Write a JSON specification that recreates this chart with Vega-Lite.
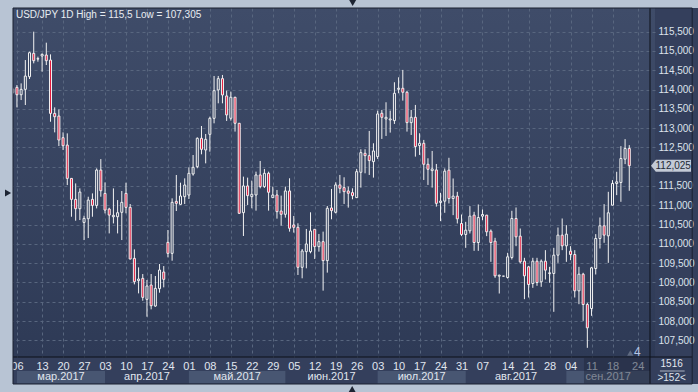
{
  "$schema": "https://vega.github.io/schema/vega-lite/v6.json",
  "width": 647,
  "height": 349,
  "autosize": "none",
  "padding": {"left": 8, "top": 8, "right": 43, "bottom": 35},
  "background": "#343f5c",
  "config": {
    "view": {"stroke": null, "fill": {"gradient": "linear", "x1": 0, "y1": 0, "x2": 0, "y2": 1, "stops": [{"offset": 0, "color": "#3f4c69"}, {"offset": 1, "color": "#2e3a56"}]}},
    "axis": {"labelFont": "Liberation Sans Narrow, Liberation Sans, sans-serif", "labelFontSize": 10, "tickCount": 200,
      "grid": true, "gridColor": "#58667f", "gridDash": [3, 3], "gridWidth": 1, "gridOpacity": 1,
      "ticks": false, "tickSize": 0, "domain": false, "labelPadding": 3,
      "labelOverlap": false, "labelFlush": false, "labelBound": false, "zindex": 0, "title": null},
    "text": {"font": "Liberation Sans Narrow, Liberation Sans, sans-serif", "fontSize": 10}
  },
  "datasets": {
    "ohlc": [
      {"k":0,"d":"2017-03-03","o":113.92,"h":114.05,"l":113.88,"c":114.01},
      {"k":1,"d":"2017-03-06","o":114.057,"h":114.117,"l":113.538,"c":113.866},
      {"k":2,"d":"2017-03-07","o":113.866,"h":114.16,"l":113.728,"c":114.005},
      {"k":3,"d":"2017-03-08","o":114.005,"h":114.765,"l":113.599,"c":114.35},
      {"k":4,"d":"2017-03-09","o":114.333,"h":114.981,"l":114.273,"c":114.955},
      {"k":5,"d":"2017-03-10","o":114.938,"h":115.5,"l":114.679,"c":114.748},
      {"k":6,"d":"2017-03-12","o":114.791,"h":114.852,"l":114.722,"c":114.8},
      {"k":7,"d":"2017-03-13","o":114.869,"h":114.938,"l":114.463,"c":114.912},
      {"k":8,"d":"2017-03-14","o":114.895,"h":115.215,"l":114.636,"c":114.748},
      {"k":9,"d":"2017-03-15","o":114.765,"h":114.912,"l":113.166,"c":113.382},
      {"k":10,"d":"2017-03-16","o":113.382,"h":113.538,"l":112.89,"c":113.296},
      {"k":11,"d":"2017-03-17","o":113.313,"h":113.486,"l":112.535,"c":112.691},
      {"k":12,"d":"2017-03-20","o":112.752,"h":112.89,"l":112.432,"c":112.544},
      {"k":13,"d":"2017-03-21","o":112.561,"h":112.864,"l":111.524,"c":111.697},
      {"k":14,"d":"2017-03-22","o":111.697,"h":111.7,"l":110.703,"c":111.153},
      {"k":15,"d":"2017-03-23","o":111.153,"h":111.567,"l":110.599,"c":110.911},
      {"k":16,"d":"2017-03-24","o":110.911,"h":111.438,"l":110.617,"c":111.343},
      {"k":17,"d":"2017-03-27","o":110.556,"h":110.729,"l":110.098,"c":110.66},
      {"k":18,"d":"2017-03-28","o":110.651,"h":111.222,"l":110.15,"c":111.135},
      {"k":19,"d":"2017-03-29","o":111.153,"h":111.308,"l":110.703,"c":110.997},
      {"k":20,"d":"2017-03-30","o":110.997,"h":111.956,"l":110.919,"c":111.913},
      {"k":21,"d":"2017-03-31","o":111.913,"h":112.198,"l":111.222,"c":111.377},
      {"k":22,"d":"2017-04-03","o":111.308,"h":111.593,"l":110.79,"c":110.876},
      {"k":23,"d":"2017-04-04","o":110.902,"h":110.936,"l":110.271,"c":110.746},
      {"k":24,"d":"2017-04-05","o":110.703,"h":111.438,"l":110.53,"c":110.74},
      {"k":25,"d":"2017-04-06","o":110.703,"h":111.135,"l":110.271,"c":110.807},
      {"k":26,"d":"2017-04-07","o":110.817,"h":111.37,"l":110.099,"c":111.076},
      {"k":27,"d":"2017-04-10","o":111.309,"h":111.586,"l":110.791,"c":110.946},
      {"k":28,"d":"2017-04-11","o":110.946,"h":111.033,"l":109.6,"c":109.607},
      {"k":29,"d":"2017-04-12","o":109.624,"h":109.857,"l":108.95,"c":109.019},
      {"k":30,"d":"2017-04-13","o":109.045,"h":109.391,"l":108.716,"c":109.088},
      {"k":31,"d":"2017-04-14","o":109.105,"h":109.218,"l":108.526,"c":108.613},
      {"k":32,"d":"2017-04-17","o":108.561,"h":109.062,"l":108.111,"c":108.907},
      {"k":33,"d":"2017-04-18","o":108.933,"h":109.218,"l":108.302,"c":108.397},
      {"k":34,"d":"2017-04-19","o":108.388,"h":109.166,"l":108.37,"c":108.846},
      {"k":35,"d":"2017-04-20","o":108.838,"h":109.477,"l":108.734,"c":109.322},
      {"k":36,"d":"2017-04-21","o":109.27,"h":109.425,"l":108.872,"c":109.08},
      {"k":37,"d":"2017-04-24","o":110.039,"h":110.359,"l":109.65,"c":109.754},
      {"k":38,"d":"2017-04-25","o":109.754,"h":111.18,"l":109.563,"c":111.076},
      {"k":39,"d":"2017-04-26","o":111.102,"h":111.785,"l":110.851,"c":111.05},
      {"k":40,"d":"2017-04-27","o":111.024,"h":111.586,"l":111.02,"c":111.24},
      {"k":41,"d":"2017-04-28","o":111.223,"h":111.698,"l":111.033,"c":111.525},
      {"k":42,"d":"2017-05-01","o":111.266,"h":111.984,"l":111.162,"c":111.828},
      {"k":43,"d":"2017-05-02","o":111.811,"h":112.303,"l":111.768,"c":111.984},
      {"k":44,"d":"2017-05-03","o":112.001,"h":112.76,"l":111.96,"c":112.736},
      {"k":45,"d":"2017-05-04","o":112.736,"h":113.055,"l":112.321,"c":112.45},
      {"k":46,"d":"2017-05-05","o":112.433,"h":112.848,"l":112.087,"c":112.71},
      {"k":47,"d":"2017-05-08","o":112.839,"h":113.297,"l":112.39,"c":113.254},
      {"k":48,"d":"2017-05-09","o":113.254,"h":114.352,"l":113.124,"c":113.971},
      {"k":49,"d":"2017-05-10","o":113.989,"h":114.352,"l":113.643,"c":114.283},
      {"k":50,"d":"2017-05-11","o":114.283,"h":114.378,"l":113.643,"c":113.859},
      {"k":51,"d":"2017-05-12","o":113.834,"h":113.973,"l":113.186,"c":113.342},
      {"k":52,"d":"2017-05-15","o":113.255,"h":113.947,"l":113.195,"c":113.8},
      {"k":53,"d":"2017-05-16","o":113.8,"h":113.81,"l":112.91,"c":113.126},
      {"k":54,"d":"2017-05-17","o":113.126,"h":113.13,"l":110.775,"c":110.792},
      {"k":55,"d":"2017-05-18","o":110.809,"h":111.743,"l":110.204,"c":111.501},
      {"k":56,"d":"2017-05-19","o":111.501,"h":111.717,"l":111.008,"c":111.25},
      {"k":57,"d":"2017-05-22","o":111.224,"h":111.639,"l":110.922,"c":111.285},
      {"k":58,"d":"2017-05-23","o":111.267,"h":111.872,"l":110.861,"c":111.786},
      {"k":59,"d":"2017-05-24","o":111.786,"h":112.149,"l":111.44,"c":111.484},
      {"k":60,"d":"2017-05-25","o":111.484,"h":111.942,"l":111.45,"c":111.829},
      {"k":61,"d":"2017-05-26","o":111.829,"h":111.872,"l":110.861,"c":111.337},
      {"k":62,"d":"2017-05-29","o":111.198,"h":111.484,"l":111.19,"c":111.267},
      {"k":63,"d":"2017-05-30","o":111.267,"h":111.397,"l":110.654,"c":110.835},
      {"k":64,"d":"2017-05-31","o":110.852,"h":111.25,"l":110.472,"c":110.766},
      {"k":65,"d":"2017-06-01","o":110.766,"h":111.484,"l":110.68,"c":111.371},
      {"k":66,"d":"2017-06-02","o":111.371,"h":111.7,"l":110.317,"c":110.403},
      {"k":67,"d":"2017-06-05","o":110.49,"h":110.723,"l":110.291,"c":110.429},
      {"k":68,"d":"2017-06-06","o":110.429,"h":110.533,"l":109.193,"c":109.392},
      {"k":69,"d":"2017-06-07","o":109.392,"h":109.867,"l":109.107,"c":109.815},
      {"k":70,"d":"2017-06-08","o":109.798,"h":110.386,"l":109.366,"c":109.997},
      {"k":71,"d":"2017-06-09","o":109.798,"h":110.818,"l":109.755,"c":110.334},
      {"k":72,"d":"2017-06-12","o":110.377,"h":110.38,"l":109.608,"c":109.928},
      {"k":73,"d":"2017-06-13","o":109.928,"h":110.256,"l":109.798,"c":110.057},
      {"k":74,"d":"2017-06-14","o":110.057,"h":110.317,"l":108.787,"c":109.565},
      {"k":75,"d":"2017-06-15","o":109.565,"h":110.982,"l":109.254,"c":110.922},
      {"k":76,"d":"2017-06-16","o":110.931,"h":111.423,"l":110.637,"c":110.861},
      {"k":77,"d":"2017-06-19","o":110.818,"h":111.596,"l":110.79,"c":111.527},
      {"k":78,"d":"2017-06-20","o":111.527,"h":111.786,"l":111.311,"c":111.44},
      {"k":79,"d":"2017-06-21","o":111.458,"h":111.726,"l":111.034,"c":111.354},
      {"k":80,"d":"2017-06-22","o":111.371,"h":111.484,"l":110.939,"c":111.311},
      {"k":81,"d":"2017-06-23","o":111.328,"h":111.44,"l":111.155,"c":111.25},
      {"k":82,"d":"2017-06-26","o":111.198,"h":111.942,"l":111.19,"c":111.872},
      {"k":83,"d":"2017-06-27","o":111.855,"h":112.452,"l":111.458,"c":112.365},
      {"k":84,"d":"2017-06-28","o":112.348,"h":112.452,"l":111.829,"c":112.287},
      {"k":85,"d":"2017-06-29","o":112.287,"h":112.927,"l":111.786,"c":112.158},
      {"k":86,"d":"2017-06-30","o":112.132,"h":112.607,"l":111.717,"c":112.408},
      {"k":87,"d":"2017-07-03","o":112.261,"h":113.454,"l":112.201,"c":113.368},
      {"k":88,"d":"2017-07-04","o":113.385,"h":113.471,"l":112.72,"c":113.281},
      {"k":89,"d":"2017-07-05","o":113.238,"h":113.67,"l":112.797,"c":113.281},
      {"k":90,"d":"2017-07-06","o":113.212,"h":113.454,"l":112.884,"c":113.238},
      {"k":91,"d":"2017-07-07","o":113.195,"h":114.189,"l":113.108,"c":113.904},
      {"k":92,"d":"2017-07-10","o":114.007,"h":114.318,"l":113.904,"c":114.033},
      {"k":93,"d":"2017-07-11","o":114.033,"h":114.509,"l":113.713,"c":113.93},
      {"k":94,"d":"2017-07-12","o":113.93,"h":113.96,"l":112.91,"c":113.143},
      {"k":95,"d":"2017-07-13","o":113.143,"h":113.471,"l":112.823,"c":113.281},
      {"k":96,"d":"2017-07-14","o":113.281,"h":113.601,"l":112.261,"c":112.521},
      {"k":97,"d":"2017-07-17","o":112.547,"h":112.867,"l":112.305,"c":112.607},
      {"k":98,"d":"2017-07-18","o":112.607,"h":112.694,"l":111.656,"c":112.063},
      {"k":99,"d":"2017-07-19","o":112.063,"h":112.218,"l":111.527,"c":111.933},
      {"k":100,"d":"2017-07-20","o":111.898,"h":112.408,"l":111.458,"c":111.942},
      {"k":101,"d":"2017-07-21","o":111.916,"h":112.071,"l":110.965,"c":111.05},
      {"k":102,"d":"2017-07-24","o":111.073,"h":111.323,"l":110.589,"c":111.107},
      {"k":103,"d":"2017-07-25","o":111.107,"h":111.954,"l":110.805,"c":111.885},
      {"k":104,"d":"2017-07-26","o":111.911,"h":112.231,"l":111.047,"c":111.176},
      {"k":105,"d":"2017-07-27","o":111.176,"h":111.695,"l":110.744,"c":111.237},
      {"k":106,"d":"2017-07-28","o":111.237,"h":111.349,"l":110.528,"c":110.649},
      {"k":107,"d":"2017-07-31","o":110.528,"h":110.761,"l":110.2,"c":110.243},
      {"k":108,"d":"2017-08-01","o":110.243,"h":110.571,"l":109.897,"c":110.355},
      {"k":109,"d":"2017-08-02","o":110.338,"h":110.978,"l":110.269,"c":110.718},
      {"k":110,"d":"2017-08-03","o":110.744,"h":110.831,"l":109.819,"c":110.035},
      {"k":111,"d":"2017-08-04","o":110.035,"h":111.021,"l":109.819,"c":110.684},
      {"k":112,"d":"2017-08-07","o":110.718,"h":110.891,"l":110.615,"c":110.761},
      {"k":113,"d":"2017-08-08","o":110.744,"h":110.75,"l":110.2,"c":110.312},
      {"k":114,"d":"2017-08-09","o":110.329,"h":110.373,"l":109.534,"c":110.035},
      {"k":115,"d":"2017-08-10","o":110.07,"h":110.156,"l":109.119,"c":109.171},
      {"k":116,"d":"2017-08-11","o":109.163,"h":109.2,"l":108.713,"c":109.188},
      {"k":117,"d":"2017-08-13","o":109.163,"h":109.163,"l":109.163,"c":109.163},
      {"k":118,"d":"2017-08-14","o":109.128,"h":109.767,"l":109.1,"c":109.664},
      {"k":119,"d":"2017-08-15","o":109.647,"h":110.857,"l":109.595,"c":110.658},
      {"k":120,"d":"2017-08-16","o":110.658,"h":110.943,"l":109.94,"c":110.182},
      {"k":121,"d":"2017-08-17","o":110.2,"h":110.398,"l":109.491,"c":109.534},
      {"k":122,"d":"2017-08-18","o":109.551,"h":109.638,"l":108.566,"c":109.171},
      {"k":123,"d":"2017-08-21","o":109.404,"h":109.43,"l":108.609,"c":108.946},
      {"k":124,"d":"2017-08-22","o":108.972,"h":109.638,"l":108.86,"c":109.551},
      {"k":125,"d":"2017-08-23","o":109.551,"h":109.638,"l":108.912,"c":108.998},
      {"k":126,"d":"2017-08-24","o":109.016,"h":109.595,"l":108.886,"c":109.551},
      {"k":127,"d":"2017-08-25","o":109.551,"h":109.837,"l":109.076,"c":109.318},
      {"k":128,"d":"2017-08-28","o":109.232,"h":109.404,"l":108.99,"c":109.249},
      {"k":129,"d":"2017-08-29","o":109.232,"h":109.897,"l":108.238,"c":109.707},
      {"k":130,"d":"2017-08-30","o":109.707,"h":110.424,"l":109.508,"c":110.226},
      {"k":131,"d":"2017-08-31","o":110.226,"h":110.658,"l":109.837,"c":109.949},
      {"k":132,"d":"2017-09-01","o":109.949,"h":110.485,"l":109.534,"c":110.252},
      {"k":133,"d":"2017-09-04","o":109.811,"h":109.94,"l":109.577,"c":109.724},
      {"k":134,"d":"2017-09-05","o":109.724,"h":109.837,"l":108.609,"c":108.782},
      {"k":135,"d":"2017-09-06","o":108.782,"h":109.404,"l":108.436,"c":109.214},
      {"k":136,"d":"2017-09-07","o":109.214,"h":109.25,"l":108.004,"c":108.428},
      {"k":137,"d":"2017-09-08","o":108.428,"h":108.47,"l":107.305,"c":107.823},
      {"k":138,"d":"2017-09-11","o":108.324,"h":109.404,"l":108.134,"c":109.379},
      {"k":139,"d":"2017-09-12","o":109.36,"h":110.252,"l":109.206,"c":110.139},
      {"k":140,"d":"2017-09-13","o":110.139,"h":110.684,"l":109.88,"c":110.468},
      {"k":141,"d":"2017-09-14","o":110.468,"h":111.029,"l":110.027,"c":110.226},
      {"k":142,"d":"2017-09-15","o":110.208,"h":111.349,"l":109.508,"c":110.805},
      {"k":143,"d":"2017-09-18","o":111.003,"h":111.652,"l":111.0,"c":111.565},
      {"k":144,"d":"2017-09-19","o":111.565,"h":111.868,"l":111.263,"c":111.608},
      {"k":145,"d":"2017-09-20","o":111.591,"h":112.533,"l":111.09,"c":112.213},
      {"k":146,"d":"2017-09-21","o":112.196,"h":112.715,"l":112.067,"c":112.473},
      {"k":147,"d":"2017-09-22","o":112.473,"h":112.559,"l":111.375,"c":112.025}
    ],
    "months": [
      {"m":"мар.2017","n":3,"s":1,"e":22},
      {"m":"апр.2017","n":4,"s":22,"e":42},
      {"m":"май.2017","n":5,"s":42,"e":65},
      {"m":"июн.2017","n":6,"s":65,"e":87},
      {"m":"июл.2017","n":7,"s":87,"e":108},
      {"m":"авг.2017","n":8,"s":108,"e":132},
      {"m":"сен.2017","n":9,"s":132,"e":151.94}
    ]
  },
  "layer": [
    {
      "data": {"name": "ohlc"},
      "mark": {"type": "rule", "color": "#f2f2f2", "strokeWidth": 1, "clip": true},
      "encoding": {
        "x": {"field": "k", "type": "quantitative",
          "scale": {"domain": [0.06, 151.94], "nice": false, "zero": false},
          "axis": {"title": null, "zindex": 0, "tickCount": 200, "values": [1,7,12,17,22,27,32,37,42,47,52,57,62,67,72,77,82,87,92,97,102,107,112,118,123,128,133,138,143,149],
            "labelExpr": "['06','13','20','27','03','10','17','24','01','08','15','22','29','05','12','19','26','03','10','17','24','31','07','14','21','28','04','11','18','24'][indexof([1,7,12,17,22,27,32,37,42,47,52,57,62,67,72,77,82,87,92,97,102,107,112,118,123,128,133,138,143,149], datum.value)]",
            "grid": true, "gridColor": "#58667f", "gridDash": [3, 3], "gridWidth": 1,
            "ticks": false, "tickSize": 0, "domain": false, "labelPadding": 3, "labelFontSize": 11,
            "labelColor": "#e0e6ef", "labelOverlap": false, "labelFlush": false, "labelBound": false}},
        "y": {"field": "l", "type": "quantitative",
          "scale": {"domain": [107.067, 116.114], "nice": false, "zero": false},
          "axis": {"title": null, "zindex": 0, "orient": "right", "tickCount": 200, "values": [107.5,108,108.5,109,109.5,110,110.5,111,111.5,112,112.5,113,113.5,114,114.5,115,115.5],
            "labelExpr": "datum.value == 112 ? '' : replace(format(datum.value, '.3f'), '.', ',')",
            "grid": true, "gridColor": "#58667f", "gridDash": [3, 3], "gridWidth": 1,
            "ticks": false, "tickSize": 0, "domain": false, "labelPadding": 3,
            "labelColor": "#dde3ec", "labelOverlap": false, "labelFlush": false, "labelBound": false}},
        "y2": {"field": "h"}
      }
    },
    {
      "data": {"name": "ohlc"},
      "mark": {"type": "bar", "width": 2, "stroke": "#f2f2f2", "strokeWidth": 1, "clip": true},
      "encoding": {
        "x": {"field": "k", "type": "quantitative"},
        "y": {"field": "o", "type": "quantitative"},
        "y2": {"field": "c"},
        "fill": {"condition": {"test": "datum.c < datum.o", "value": "#e3173a"}, "value": "#36435f"}
      }
    },
    {
      "data": {"name": "months"},
      "transform": [{"filter": "datum.n % 2 == 1"}],
      "mark": {"type": "rect", "fill": "#485672"},
      "encoding": {
        "x": {"field": "s", "type": "quantitative"},
        "x2": {"field": "e"},
        "y": {"datum": 106.704, "type": "quantitative"},
        "y2": {"datum": 106.38}
      }
    },
    {
      "data": {"name": "months"},
      "transform": [{"calculate": "(datum.s + datum.e) / 2", "as": "mid"}],
      "mark": {"type": "text", "align": "center", "baseline": "middle", "color": "#e0e6ef", "fontSize": 11},
      "encoding": {
        "x": {"field": "mid", "type": "quantitative"},
        "y": {"datum": 106.549, "type": "quantitative"},
        "text": {"field": "m"}
      }
    },
    {
      "data": {"values": [{}]},
      "mark": {"type": "rect", "fill": "#1f283c", "opacity": 0.5},
      "encoding": {
        "x": {"datum": 136.2, "type": "quantitative"},
        "x2": {"datum": 151.94},
        "y": {"datum": 107.041, "type": "quantitative"},
        "y2": {"datum": 106.38}
      }
    },
    {
      "data": {"values": [{}]},
      "mark": {"type": "rule", "color": "#0d1018", "strokeWidth": 1},
      "encoding": {
        "x": {"datum": 0.06, "type": "quantitative"},
        "x2": {"datum": 162},
        "y": {"datum": 107.067, "type": "quantitative"}
      }
    },
    {
      "data": {"values": [{}]},
      "mark": {"type": "rule", "color": "#0d1018", "strokeWidth": 1},
      "encoding": {
        "x": {"datum": 151.94, "type": "quantitative"},
        "y": {"datum": 116.114, "type": "quantitative"},
        "y2": {"datum": 106.367}
      }
    },
    {
      "data": {"values": [{}]},
      "mark": {"type": "rule", "color": "#aab3c2", "strokeWidth": 1},
      "encoding": {
        "x": {"datum": 154.3, "type": "quantitative"},
        "x2": {"datum": 160.2},
        "y": {"datum": 106.704, "type": "quantitative"}
      }
    },
    {
      "data": {"values": [{}]},
      "mark": {"type": "point", "shape": "M-1,0L-0.76,-0.3L1,-0.3L1,0.3L-0.76,0.3Z", "size": 1600, "filled": true, "fill": "#c3cad6", "opacity": 1, "strokeWidth": 0},
      "encoding": {
        "x": {"datum": 156.95, "type": "quantitative"},
        "y": {"datum": 112.025, "type": "quantitative"}
      }
    },
    {
      "data": {"values": [{}]},
      "mark": {"type": "text", "color": "#232a36", "align": "left", "baseline": "middle", "text": "112,025"},
      "encoding": {
        "x": {"datum": 153.25, "type": "quantitative"},
        "y": {"datum": 112.025, "type": "quantitative"}
      }
    },
    {
      "data": {"values": [{}]},
      "mark": {"type": "text", "color": "#e8ecf2", "align": "left", "baseline": "middle", "text": "USD/JPY 1D High = 115,5 Low = 107,305"},
      "encoding": {
        "x": {"datum": 0.77, "type": "quantitative"},
        "y": {"datum": 115.933, "type": "quantitative"}
      }
    },
    {
      "data": {"values": [{}]},
      "mark": {"type": "text", "color": "#e3e8ef", "align": "center", "baseline": "middle", "text": "1516"},
      "encoding": {
        "x": {"datum": 157.1, "type": "quantitative"},
        "y": {"datum": 106.886, "type": "quantitative"}
      }
    },
    {
      "data": {"values": [{}]},
      "mark": {"type": "text", "color": "#dfe4ec", "align": "center", "baseline": "middle", "text": ">152<"},
      "encoding": {
        "x": {"datum": 157.1, "type": "quantitative"},
        "y": {"datum": 106.523, "type": "quantitative"}
      }
    },
    {
      "data": {"values": [{}]},
      "mark": {"type": "text", "color": "#b3c6e6", "align": "center", "baseline": "middle", "text": "4", "fontSize": 12},
      "encoding": {
        "x": {"datum": 148.9, "type": "quantitative"},
        "y": {"datum": 107.197, "type": "quantitative"}
      }
    },
    {
      "data": {"values": [{}]},
      "mark": {"type": "point", "shape": "triangle-up", "size": 40, "filled": true, "fill": "#5f6a80", "opacity": 1},
      "encoding": {
        "x": {"datum": 147.24, "type": "quantitative"},
        "y": {"datum": 107.171, "type": "quantitative"}
      }
    },
    {
      "data": {"values": [{}]},
      "mark": {"type": "rect", "fill": "#b8c4d4"},
      "encoding": {
        "x": {"datum": -4, "type": "quantitative"},
        "x2": {"datum": 0.06},
        "y": {"datum": 116.6, "type": "quantitative"},
        "y2": {"datum": 105.9}
      }
    },
    {
      "data": {"values": [{}]},
      "mark": {"type": "rect", "fill": "#b8c4d4"},
      "encoding": {
        "x": {"datum": -4, "type": "quantitative"},
        "x2": {"datum": 170},
        "y": {"datum": 116.6, "type": "quantitative"},
        "y2": {"datum": 116.114}
      }
    },
    {
      "data": {"values": [{}]},
      "mark": {"type": "rect", "fill": "#b8c4d4"},
      "encoding": {
        "x": {"datum": -4, "type": "quantitative"},
        "x2": {"datum": 170},
        "y": {"datum": 106.367, "type": "quantitative"},
        "y2": {"datum": 105.9}
      }
    },
    {
      "data": {"values": [{}]},
      "mark": {"type": "rect", "filled": false, "stroke": "#1a2131", "strokeWidth": 1},
      "encoding": {
        "x": {"datum": 0.06, "type": "quantitative"},
        "x2": {"datum": 162},
        "y": {"datum": 116.114, "type": "quantitative"},
        "y2": {"datum": 106.367}
      }
    },
    {
      "data": {"values": [{"s": "triangle-right", "px": -1.113, "py": 111.318}, {"s": "triangle-down", "px": 81.05, "py": 116.244}, {"s": "triangle-up", "px": 80.93, "py": 106.233}]},
      "mark": {"type": "point", "size": 50, "filled": true, "fill": "#1d2433", "opacity": 1},
      "encoding": {
        "x": {"field": "px", "type": "quantitative"},
        "y": {"field": "py", "type": "quantitative"},
        "shape": {"field": "s", "type": "nominal", "scale": null, "legend": null}
      }
    }
  ]
}
